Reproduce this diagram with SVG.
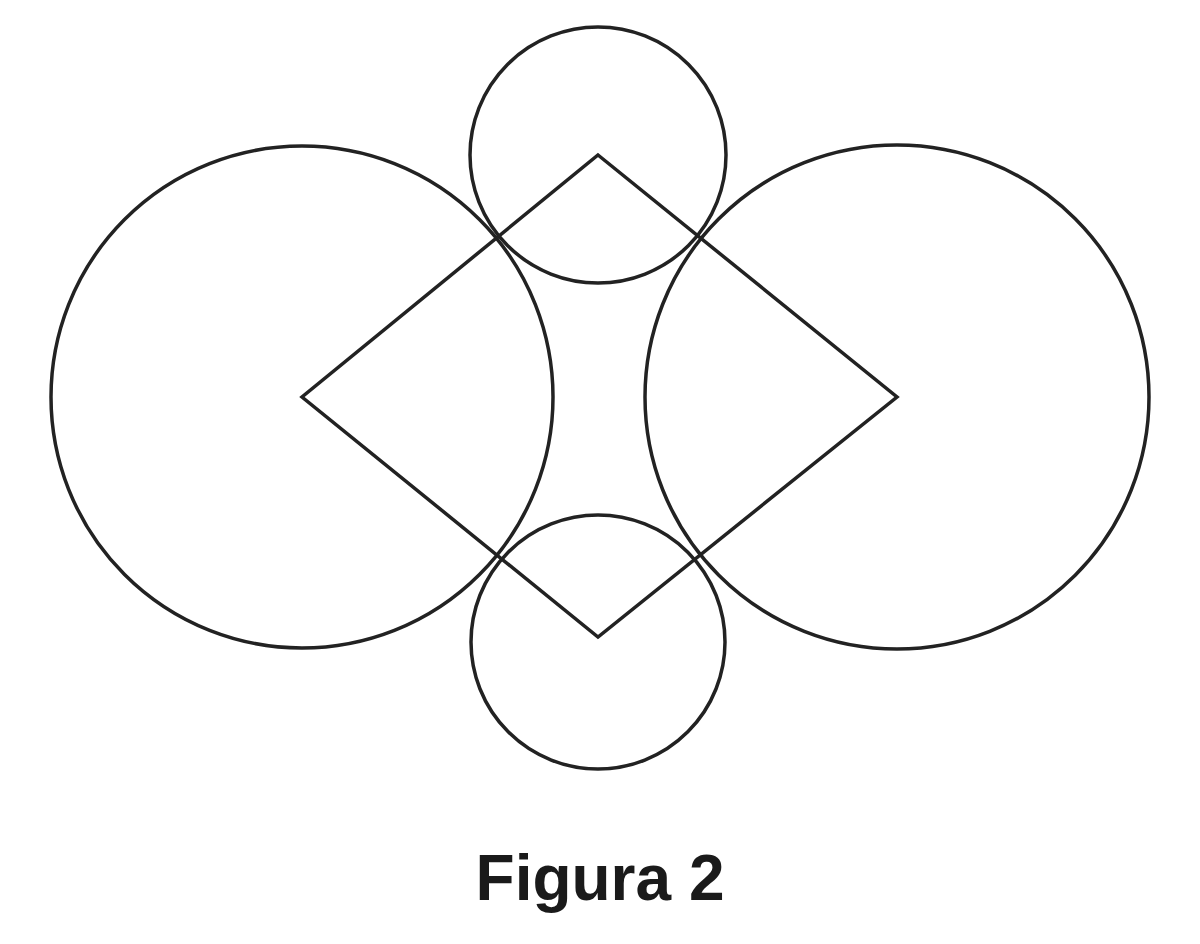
<svg xmlns="http://www.w3.org/2000/svg" width="1200" height="944" viewBox="0 0 1200 944">
<style>.s{fill:none;stroke:#222;stroke-width:3.5}</style>
<rect width="1200" height="944" fill="#fff"/>
<g id="shapes">
<circle id="left" class="s" cx="302" cy="397" r="251"/>
<circle id="right" class="s" cx="897" cy="397" r="252"/>
<circle id="top" class="s" cx="598" cy="155" r="128"/>
<circle id="bottom" class="s" cx="598" cy="642" r="127"/>
<polygon id="rhombus" class="s" points="598,155 897,397 598,637 302,397"/>
</g>
<text x="600" y="900" text-anchor="middle" font-family="Liberation Sans, Arial, sans-serif" font-weight="bold" font-size="64" fill="#1a1a1a">Figura 2</text>
</svg>
